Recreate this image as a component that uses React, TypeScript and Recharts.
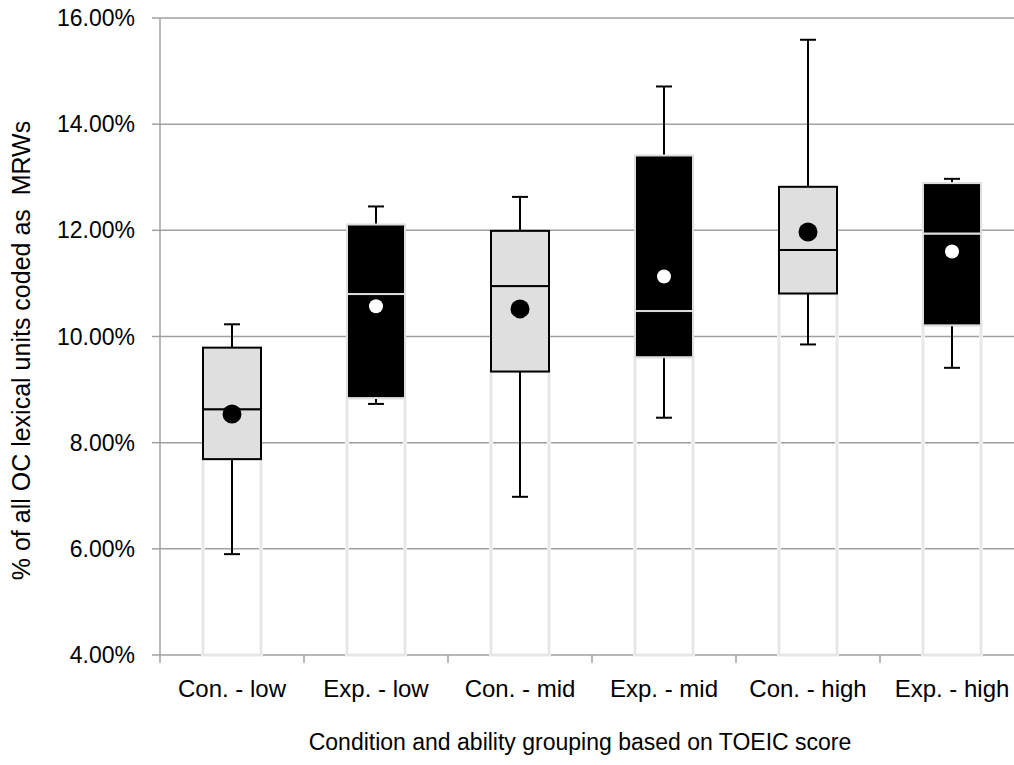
import React from 'react';
import { ComposedChart, Bar, Scatter, XAxis, YAxis, CartesianGrid } from 'recharts';

// Five-number summaries and means per condition / TOEIC ability group (% of OC lexical units coded as MRWs)
const categories = ['Con. - low', 'Exp. - low', 'Con. - mid', 'Exp. - mid', 'Con. - high', 'Exp. - high'];
const groups = ['con', 'exp', 'con', 'exp', 'con', 'exp'];
const whiskerMin = [5.9, 8.73, 6.98, 8.47, 9.85, 9.41];
const q1 = [7.69, 8.84, 9.34, 9.61, 10.81, 10.21];
const median = [8.63, 10.8, 10.95, 10.48, 11.63, 11.94];
const q3 = [9.79, 12.11, 11.99, 13.41, 12.82, 12.89];
const whiskerMax = [10.23, 12.45, 12.63, 14.71, 15.59, 12.97];
const means = [8.54, 10.57, 10.52, 11.13, 11.97, 11.6];
const yTicks = [4, 6, 8, 10, 12, 14, 16];
const AXIS_MIN = 4;
const AXIS_MAX = 16;

const data = categories.map((name, i) => ({
  name,
  group: groups[i],
  base: [AXIS_MIN, q1[i]],
  lowWhisker: [whiskerMin[i], q1[i]],
  highWhisker: [q3[i], whiskerMax[i]],
  lowBox: [q1[i], median[i]],
  highBox: [median[i], q3[i]],
  mean: means[i],
}));

const CHART_W = 1040;
const CHART_H = 765;
const Y_AXIS_W = 160;
const X_AXIS_H = 110;
const MARGIN = { top: 18, right: 16, bottom: 0, left: 0 };
const PLOT_W = CHART_W - MARGIN.left - MARGIN.right - Y_AXIS_W;
const PLOT_H = CHART_H - MARGIN.top - MARGIN.bottom - X_AXIS_H;
const AXIS_Y = MARGIN.top + PLOT_H;
const PLOT_CX = MARGIN.left + Y_AXIS_W + PLOT_W / 2;
const PLOT_CY = MARGIN.top + PLOT_H / 2;
const HALF_BAND = PLOT_W / categories.length / 2;
const FONT = '"Liberation Sans", Arial, sans-serif';
const GRID = '#a0a0a0';

const BaseShape = (props: any) => {
  const { x, y, width, height } = props;
  return (
    <g>
      <rect x={x} y={y} width={width} height={height} fill="none" stroke="#f3f3f3" strokeWidth={4} />
      <rect x={x} y={y} width={width} height={height} fill="none" stroke="#e0e0e0" strokeWidth={1.2} />
    </g>
  );
};

const BoxShape = (props: any) => {
  const { x, y, width, height, payload } = props;
  const con = payload.group === 'con';
  return (
    <rect
      x={x}
      y={y}
      width={width}
      height={height}
      fill={con ? '#dfdfdf' : '#000000'}
      stroke={con ? '#000000' : '#dedede'}
      strokeWidth={2}
    />
  );
};

const makeWhisker = (capAtTop: boolean) => (props: any) => {
  const { x, y, width, height } = props;
  const cx = x + width / 2;
  const capY = capAtTop ? y : y + height;
  return (
    <g stroke="#000" strokeWidth={2}>
      <line x1={cx} y1={y} x2={cx} y2={y + height} />
      <line x1={cx - 8} y1={capY} x2={cx + 8} y2={capY} />
    </g>
  );
};
const LowWhisker = makeWhisker(false);
const HighWhisker = makeWhisker(true);

const MeanDot = (props: any) => {
  const { cx, cy, payload } = props;
  const con = payload.group === 'con';
  return <circle cx={cx} cy={cy} r={con ? 9.5 : 7} fill={con ? '#000' : '#fff'} />;
};

const CategoryTick = (props: any) => {
  const { x, payload, index } = props;
  return (
    <g>
      <line x1={x - HALF_BAND} y1={AXIS_Y} x2={x - HALF_BAND} y2={AXIS_Y + 8} stroke={GRID} strokeWidth={1.5} />
      {index === categories.length - 1 && (
        <line x1={x + HALF_BAND} y1={AXIS_Y} x2={x + HALF_BAND} y2={AXIS_Y + 8} stroke={GRID} strokeWidth={1.5} />
      )}
      <text x={x} y={AXIS_Y + 42} textAnchor="middle" fontFamily={FONT} fontSize={24} fill="#000">
        {payload.value}
      </text>
    </g>
  );
};

const YTitle = () => {
  const tx = 30;
  const ty = PLOT_CY + 14;
  return (
    <text
      x={tx}
      y={ty}
      transform={`rotate(-90 ${tx} ${ty})`}
      textAnchor="middle"
      fontFamily={FONT}
      fontSize={25}
      fill="#000"
      style={{ whiteSpace: 'pre' }}
    >
      % of all OC lexical units coded as  MRWs
    </text>
  );
};

const XTitle = () => (
  <text x={PLOT_CX - 12} y={AXIS_Y + 95} textAnchor="middle" fontFamily={FONT} fontSize={23} fill="#000">
    Condition and ability grouping based on TOEIC score
  </text>
);

const hiddenAxes = ['base', 'lw', 'hw', 'lb', 'hb'];

export default function App() {
  return (
    <div
      style={{
        position: 'absolute',
        left: 0,
        top: 0,
        width: 1014,
        height: 765,
        overflow: 'hidden',
        background: '#fff',
      }}
    >
      <ComposedChart width={CHART_W} height={CHART_H} data={data} margin={MARGIN}>
        <CartesianGrid xAxisId="main" vertical={false} stroke={GRID} strokeWidth={1.5} />
        <XAxis
          xAxisId="main"
          dataKey="name"
          height={X_AXIS_H}
          tickSize={0}
          tickMargin={0}
          tickLine={false}
          axisLine={{ stroke: GRID, strokeWidth: 1.5 }}
          tick={<CategoryTick />}
          interval={0}
          label={<XTitle />}
        />
        {hiddenAxes.map((id) => (
          <XAxis key={id} xAxisId={id} dataKey="name" hide />
        ))}
        <YAxis
          width={Y_AXIS_W}
          type="number"
          domain={[AXIS_MIN, AXIS_MAX]}
          ticks={yTicks}
          interval={0}
          tickFormatter={(v: number) => `${v.toFixed(2)}%`}
          tickSize={8}
          tickMargin={17}
          axisLine={{ stroke: GRID, strokeWidth: 1.5 }}
          tickLine={{ stroke: GRID, strokeWidth: 1.5 }}
          tick={{ fontFamily: FONT, fontSize: 23, fill: '#000' }}
          label={<YTitle />}
        />
        <Bar xAxisId="base" dataKey="base" barSize={58} shape={<BaseShape />} isAnimationActive={false} />
        <Bar xAxisId="lw" dataKey="lowWhisker" barSize={58} shape={<LowWhisker />} isAnimationActive={false} />
        <Bar xAxisId="hw" dataKey="highWhisker" barSize={58} shape={<HighWhisker />} isAnimationActive={false} />
        <Bar xAxisId="lb" dataKey="lowBox" barSize={58} shape={<BoxShape />} isAnimationActive={false} />
        <Bar xAxisId="hb" dataKey="highBox" barSize={58} shape={<BoxShape />} isAnimationActive={false} />
        <Scatter xAxisId="main" dataKey="mean" shape={<MeanDot />} isAnimationActive={false} />
      </ComposedChart>
    </div>
  );
}
